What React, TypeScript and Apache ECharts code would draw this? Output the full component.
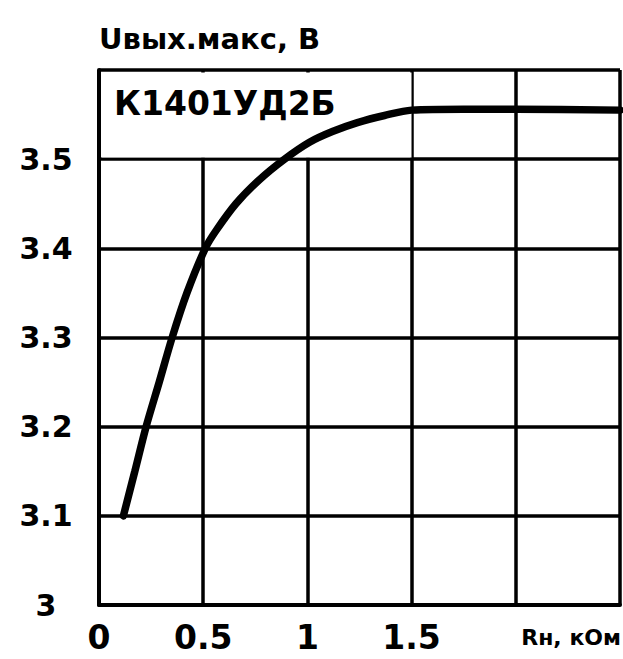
import React, { useEffect, useRef } from 'react';
import * as echarts from 'echarts';

// Load resistance, kOhm
const rLoad = [0.117, 0.172, 0.226, 0.289, 0.351, 0.422, 0.51, 0.562, 0.657, 0.77, 0.89, 1.01, 1.12, 1.24, 1.37, 1.5, 1.75, 2.0, 2.5];
// Max output voltage, V
const uOut = [3.1, 3.15, 3.2, 3.25, 3.3, 3.35, 3.4, 3.42, 3.45, 3.477, 3.5, 3.519, 3.531, 3.541, 3.549, 3.555, 3.556, 3.556, 3.555];

const xTickLabels = [0, 0.5, 1, 1.5];
const yTickLabels = [3, 3.1, 3.2, 3.3, 3.4, 3.5];
const yAxisTitle = 'Uвых.макс, В';
const xAxisTitle = 'Rн, кОм';
const curveLabel = 'К1401УД2Б';

const FONT = '"DejaVu Sans", "Liberation Sans", Arial, sans-serif';

export default function App() {
  const ref = useRef<HTMLDivElement>(null);

  useEffect(() => {
    if (!ref.current) return;
    const chart = echarts.init(ref.current, undefined, { renderer: 'svg' });
    const near = (v: number, list: number[]) => list.some((t) => Math.abs(t - v) < 1e-6);
    chart.setOption({
      animation: false,
      backgroundColor: '#fff',
      grid: { left: 99, right: -4, top: 70, bottom: 54, containLabel: false },
      xAxis: {
        type: 'value',
        min: 0,
        max: 2.5,
        interval: 0.5,
        axisLine: { show: true, lineStyle: { color: '#000', width: 4 } },
        axisTick: { show: false },
        splitLine: { show: true, lineStyle: { color: '#000', width: 3.5 } },
        axisLabel: {
          margin: 16,
          color: '#000',
          fontFamily: FONT,
          fontWeight: 'bold',
          fontSize: 33,
          formatter: (v: number) => (near(v, xTickLabels) ? String(+v.toFixed(1)) : ''),
        },
      },
      yAxis: {
        type: 'value',
        min: 3.0,
        max: 3.6,
        interval: 0.1,
        name: yAxisTitle,
        nameLocation: 'end',
        nameGap: 31,
        nameTextStyle: {
          align: 'left',
          verticalAlign: 'middle',
          color: '#000',
          fontFamily: FONT,
          fontWeight: 'bold',
          fontSize: 29,
        },
        axisLine: { show: true, lineStyle: { color: '#000', width: 4 } },
        axisTick: { show: false },
        splitLine: { show: true, lineStyle: { color: '#000', width: 3.5 } },
        axisLabel: {
          margin: 53,
          align: 'center',
          padding: [0, 0, 10, 0],
          color: '#000',
          fontFamily: FONT,
          fontWeight: 'bold',
          fontSize: 30,
          formatter: (v: number) => (near(v, yTickLabels) ? String(+v.toFixed(1)) : ''),
        },
      },
      graphic: [
        {
          type: 'rect',
          z: 3,
          shape: { x: 101.5, y: 72.5, width: 310, height: 85 },
          style: { fill: '#fff' },
          silent: true,
        },
        {
          type: 'text',
          z: 4,
          x: 114,
          y: 103,
          style: {
            text: curveLabel,
            fill: '#000',
            font: `bold 33px ${FONT}`,
            verticalAlign: 'middle',
            align: 'left',
          },
        },
        {
          type: 'text',
          z: 4,
          x: 621,
          y: 637,
          style: {
            text: xAxisTitle,
            fill: '#000',
            font: `bold 22px ${FONT}`,
            verticalAlign: 'middle',
            align: 'right',
          },
        },
      ],
      series: [
        {
          type: 'line',
          z: 5,
          data: rLoad.map((x, i) => [x, uOut[i]]),
          showSymbol: false,
          smooth: 0.3,
          lineStyle: { color: '#000', width: 7.5, cap: 'round' },
          silent: true,
        },
      ],
    });
    return () => chart.dispose();
  }, []);

  return (
    <div
      ref={ref}
      style={{ position: 'fixed', left: 0, top: 0, width: 623, height: 659, background: '#fff' }}
    />
  );
}
